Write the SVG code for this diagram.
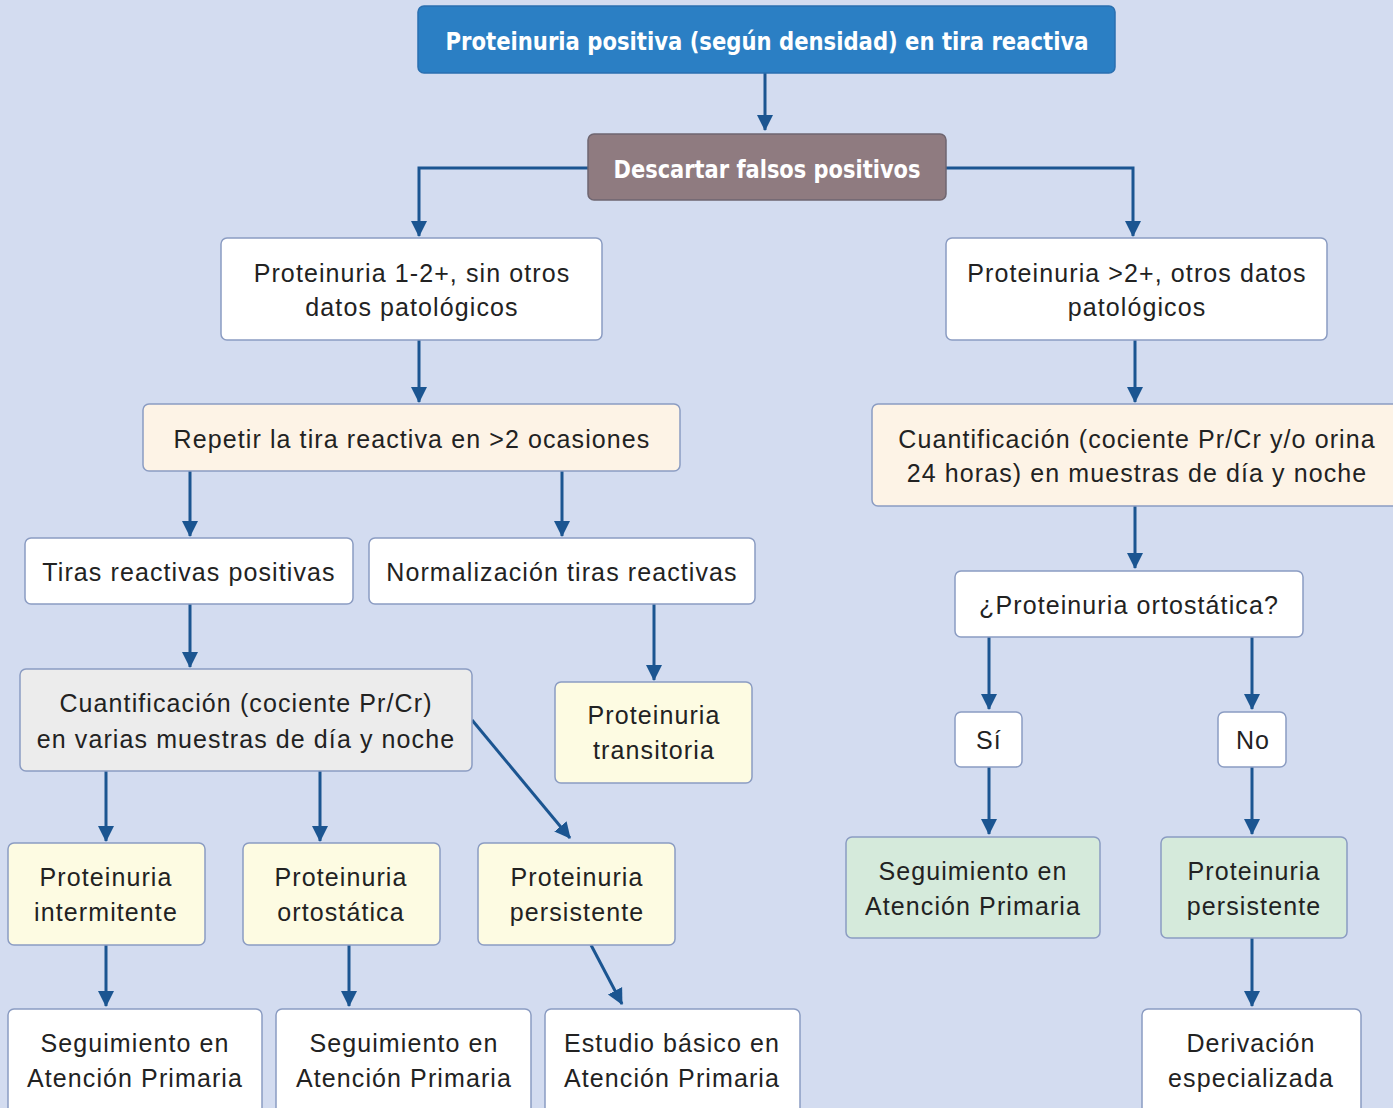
<svg xmlns="http://www.w3.org/2000/svg" width="1393" height="1108" viewBox="0 0 1393 1108">
<defs>
<marker id="ah" viewBox="0 0 16 20" refX="15" refY="10" markerWidth="16" markerHeight="20" markerUnits="userSpaceOnUse" orient="auto">
<path d="M0,2 L16,10 L0,18 Z" fill="#1b5591"/>
</marker>
<style>
.bx{stroke:#8b9cc2;stroke-width:1.5}
.w{fill:#ffffff}
.cr{fill:#fdf3e6}
.gy{fill:#ececec}
.yl{fill:#fdfbe2}
.gr{fill:#d5eadb}
.t{font-family:"Liberation Sans",Arial,sans-serif;font-size:25px;fill:#222;text-anchor:middle;letter-spacing:1.1px}
.h{font-family:"Liberation Sans Narrow","DejaVu Sans Condensed","Liberation Sans",sans-serif;font-weight:bold;font-size:25px;fill:#fff;text-anchor:middle}
.c{fill:none;stroke:#1b5591;stroke-width:3;marker-end:url(#ah)}
</style>
</defs>
<rect width="1393" height="1108" fill="#d3dcf0"/>
<g id="connectors">
<path class="c" d="M765,73 V130"/>
<path class="c" d="M588,168 H419 V236"/>
<path class="c" d="M946,168 H1133 V236"/>
<path class="c" d="M419,340 V402"/>
<path class="c" d="M1135,340 V402"/>
<path class="c" d="M190,471 V536"/>
<path class="c" d="M562,471 V536"/>
<path class="c" d="M190,604 V667"/>
<path class="c" d="M654,604 V680"/>
<path class="c" d="M1135,506 V568"/>
<path class="c" d="M989,637 V709"/>
<path class="c" d="M1252,637 V709"/>
<path class="c" d="M989,767 V834"/>
<path class="c" d="M1252,767 V834"/>
<path class="c" d="M1252,938 V1006"/>
<path class="c" d="M106,771 V841"/>
<path class="c" d="M320,771 V841"/>
<path class="c" d="M472,720 L570,838"/>
<path class="c" d="M106,945 V1006"/>
<path class="c" d="M349,945 V1006"/>
<path class="c" d="M591,945 L622,1004"/>
</g>
<g id="n1"><rect x="418" y="6" width="697" height="67" rx="6" fill="#2b7fc4" stroke="#2a6fb0" stroke-width="1.5"/><text class="h" x="767" y="50" textLength="643" lengthAdjust="spacingAndGlyphs">Proteinuria positiva (según densidad) en tira reactiva</text></g>
<g id="n2"><rect x="588" y="134" width="358" height="66" rx="6" fill="#8f7b80" stroke="#6f6670" stroke-width="1.5"/><text class="h" x="767" y="178" textLength="307" lengthAdjust="spacingAndGlyphs">Descartar falsos positivos</text></g>
<g id="n3"><rect class="bx w" x="221" y="238" width="381" height="102" rx="6"/><text class="t" x="412" y="282">Proteinuria 1-2+, sin otros</text><text class="t" x="412" y="316">datos patológicos</text></g>
<g id="n4"><rect class="bx w" x="946" y="238" width="381" height="102" rx="6"/><text class="t" x="1137" y="282">Proteinuria &gt;2+, otros datos</text><text class="t" x="1137" y="316">patológicos</text></g>
<g id="n5"><rect class="bx cr" x="143" y="404" width="537" height="67" rx="6"/><text class="t" x="412" y="448">Repetir la tira reactiva en &gt;2 ocasiones</text></g>
<g id="n6"><rect class="bx cr" x="872" y="404" width="530" height="102" rx="6"/><text class="t" x="1137" y="448">Cuantificación (cociente Pr/Cr y/o orina</text><text class="t" x="1137" y="482">24 horas) en muestras de día y noche</text></g>
<g id="n7"><rect class="bx w" x="25" y="538" width="328" height="66" rx="6"/><text class="t" x="189" y="581">Tiras reactivas positivas</text></g>
<g id="n8"><rect class="bx w" x="369" y="538" width="386" height="66" rx="6"/><text class="t" x="562" y="581">Normalización tiras reactivas</text></g>
<g id="n9"><rect class="bx gy" x="20" y="669" width="452" height="102" rx="6"/><text class="t" x="246" y="712">Cuantificación (cociente Pr/Cr)</text><text class="t" x="246" y="748">en varias muestras de día y noche</text></g>
<g id="n10"><rect class="bx yl" x="555" y="682" width="197" height="101" rx="6"/><text class="t" x="654" y="724">Proteinuria</text><text class="t" x="654" y="759">transitoria</text></g>
<g id="n11"><rect class="bx w" x="955" y="571" width="348" height="66" rx="6"/><text class="t" x="1129" y="614">¿Proteinuria ortostática?</text></g>
<g id="n12"><rect class="bx w" x="955" y="712" width="67" height="55" rx="6"/><text class="t" x="989" y="749">Sí</text></g>
<g id="n13"><rect class="bx w" x="1218" y="712" width="68" height="55" rx="6"/><text class="t" x="1253" y="749">No</text></g>
<g id="n14"><rect class="bx gr" x="846" y="837" width="254" height="101" rx="6"/><text class="t" x="973" y="880">Seguimiento en</text><text class="t" x="973" y="915">Atención Primaria</text></g>
<g id="n15"><rect class="bx gr" x="1161" y="837" width="186" height="101" rx="6"/><text class="t" x="1254" y="880">Proteinuria</text><text class="t" x="1254" y="915">persistente</text></g>
<g id="n16"><rect class="bx w" x="1142" y="1009" width="219" height="110" rx="6"/><text class="t" x="1251" y="1052">Derivación</text><text class="t" x="1251" y="1087">especializada</text></g>
<g id="n17"><rect class="bx yl" x="8" y="843" width="197" height="102" rx="6"/><text class="t" x="106" y="886">Proteinuria</text><text class="t" x="106" y="921">intermitente</text></g>
<g id="n18"><rect class="bx yl" x="243" y="843" width="197" height="102" rx="6"/><text class="t" x="341" y="886">Proteinuria</text><text class="t" x="341" y="921">ortostática</text></g>
<g id="n19"><rect class="bx yl" x="478" y="843" width="197" height="102" rx="6"/><text class="t" x="577" y="886">Proteinuria</text><text class="t" x="577" y="921">persistente</text></g>
<g id="n20"><rect class="bx w" x="8" y="1009" width="254" height="110" rx="6"/><text class="t" x="135" y="1052">Seguimiento en</text><text class="t" x="135" y="1087">Atención Primaria</text></g>
<g id="n21"><rect class="bx w" x="276" y="1009" width="255" height="110" rx="6"/><text class="t" x="404" y="1052">Seguimiento en</text><text class="t" x="404" y="1087">Atención Primaria</text></g>
<g id="n22"><rect class="bx w" x="545" y="1009" width="255" height="110" rx="6"/><text class="t" x="672" y="1052">Estudio básico en</text><text class="t" x="672" y="1087">Atención Primaria</text></g>
</svg>
